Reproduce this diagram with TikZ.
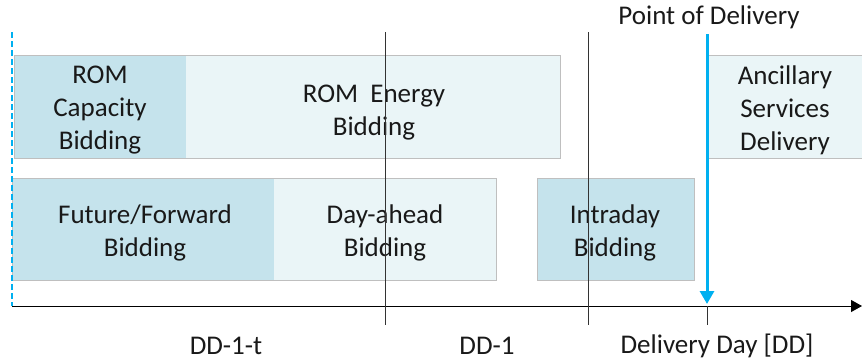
\documentclass[tikz,border=0pt]{standalone}
\usepackage{fontspec}
\setmainfont{Carlito}
\usetikzlibrary{arrows.meta}
\definecolor{darkfill}{HTML}{C5E3EC}
\definecolor{lightfill}{HTML}{EAF5F7}
\definecolor{boxline}{HTML}{BFBFBF}
\definecolor{pdblue}{HTML}{00B0F0}
\begin{document}
\begin{tikzpicture}[x=1pt,y=-1pt,
  lbl/.style={font=\fontsize{27}{33}\selectfont, align=center, text=black!90, inner sep=0pt},
  dbox/.style={fill=darkfill, draw=none},
  lbox/.style={fill=lightfill, draw=none},
  frame/.style={draw=boxline, line width=0.8pt},
  divider/.style={draw=black!80, line width=0.9pt}]
\useasboundingbox (0,0) rectangle (862,360);
% top row
\path[lbox] (14,55) rectangle (560,158);
\path[dbox] (14,55) rectangle (186,158);
\draw[frame] (14,55) rectangle (560,158);
\path[lbox] (708,55) rectangle (862,158);
\draw[frame] (862,55) -- (708,55) -- (708,158) -- (862,158);
% bottom row
\path[lbox] (12,178) rectangle (496,280);
\path[dbox] (12,178) rectangle (274,280);
\draw[frame] (12,178) rectangle (496,280);
\path[dbox] (537,178) rectangle (694,280);
\draw[frame] (537,178) rectangle (694,280);
% labels
\node[lbl] (romcap) at (100,110.5) {ROM\\Capacity\\Bidding};
\node[lbl] (romen) at (374,112.5) {ROM\ \ Energy\\Bidding};
\node[lbl] (anc) at (785,110.5) {Ancillary\\Services\\Delivery};
\node[lbl] (fut) at (145,232.5) {Future/Forward\\Bidding};
\node[lbl] (dah) at (385,232.5) {Day-ahead\\Bidding};
\node[lbl] (intra) at (615,232.5) {Intraday\\Bidding};
\node[lbl] (pod) at (709,17) {Point of Delivery};
\node[lbl] (l1) at (226,345.5) {DD-1-t};
\node[lbl] (l2) at (487,345.5) {DD-1};
\node[lbl] (l3) at (717,345.5) {Delivery Day [DD]};
% axis
\coordinate (ax0) at (12,306);
\coordinate (ax1) at (862,306);
\draw[line width=1pt, -{Triangle[length=11pt,width=12pt]}] (ax0) -- (ax1);
% dividers
\coordinate (d1t) at (385,32); \coordinate (d1b) at (385,325);
\coordinate (d2t) at (588,32); \coordinate (d2b) at (588,325);
\coordinate (d3t) at (707,306); \coordinate (d3b) at (707,325);
\draw[divider] (d1t) -- (d1b);
\draw[divider] (d2t) -- (d2b);
\draw[divider] (d3t) -- (d3b);
% dashed start line
\coordinate (s0) at (12,32); \coordinate (s1) at (12,306);
\draw[pdblue, line width=1.6pt, dash pattern=on 6pt off 3pt] (s0) -- (s1);
% point of delivery arrow
\coordinate (p0) at (707,34); \coordinate (p1) at (707,304);
\draw[pdblue, line width=3pt, -{Triangle[length=13pt,width=14pt]}] (p0) -- (p1);
\end{tikzpicture}
\end{document}
